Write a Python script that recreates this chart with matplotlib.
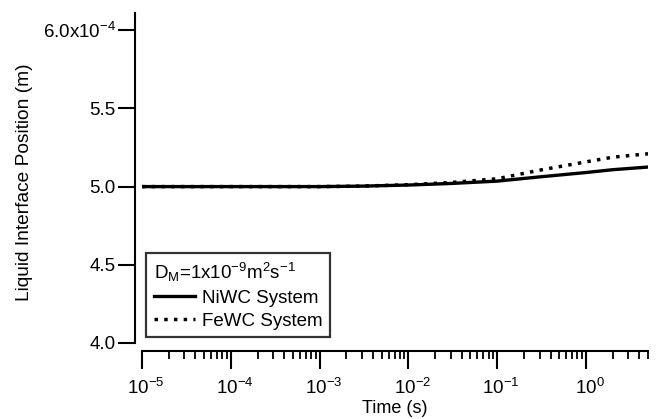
import numpy as np
import matplotlib
matplotlib.use("Agg")
from matplotlib import pyplot as plt
from matplotlib.ticker import LogLocator, NullFormatter, FixedLocator
from matplotlib.transforms import ScaledTranslation

plt.rcParams["font.family"] = ["Liberation Sans", "DejaVu Sans"]
plt.rcParams["mathtext.fontset"] = "custom"
plt.rcParams["mathtext.rm"] = "Liberation Sans"
plt.rcParams["mathtext.it"] = "Liberation Sans"

# time (s) and liquid interface position (m)
time_s = [1e-5, 1e-4, 1e-3, 3e-3, 1e-2, 3e-2, 1e-1, 3e-1, 1.0, 2.0, 5.0]
niwc_pos = [5.000e-4, 5.000e-4, 5.000e-4, 5.003e-4, 5.010e-4, 5.020e-4,
            5.035e-4, 5.062e-4, 5.090e-4, 5.108e-4, 5.125e-4]
fewc_pos = [5.000e-4, 5.000e-4, 5.000e-4, 5.003e-4, 5.012e-4, 5.026e-4,
            5.050e-4, 5.105e-4, 5.158e-4, 5.188e-4, 5.210e-4]

y_ticks = [4.0e-4, 4.5e-4, 5.0e-4, 5.5e-4, 6.0e-4]
y_tick_labels = ["4.0", "4.5", "5.0", "5.5", r"6.0x10$^{-4}$"]
x_ticks = [1e-5, 1e-4, 1e-3, 1e-2, 1e-1, 1e0]
x_tick_labels = [r"10$^{-5}$", r"10$^{-4}$", r"10$^{-3}$", r"10$^{-2}$",
                 r"10$^{-1}$", r"10$^{0}$"]

fig = plt.figure(figsize=(6.58, 4.19), dpi=100)
ax = fig.add_axes([142 / 658, (419 - 343) / 419, 506 / 658, 330 / 419])

ax.plot(time_s, niwc_pos, color="black", lw=2.4, label="NiWC System")
ax.plot(time_s, fewc_pos, color="black", lw=2.5, linestyle=(0, (1, 1.8)),
        label="FeWC System")

ax.set_xscale("log")
ax.set_xlim(1e-5, 5)
ax.set_ylim(4.0e-4, 6.11e-4)

ax.spines["top"].set_visible(False)
ax.spines["right"].set_visible(False)
ax.spines["left"].set_position(("outward", 5))
ax.spines["bottom"].set_position(("outward", 6))
for s in ("left", "bottom"):
    ax.spines[s].set_linewidth(1.5)

ax.yaxis.set_major_locator(FixedLocator(y_ticks))
ax.set_yticklabels(y_tick_labels)
ax.xaxis.set_major_locator(FixedLocator(x_ticks))
ax.set_xticklabels(x_tick_labels)
ax.xaxis.set_minor_locator(LogLocator(base=10, subs=np.arange(2, 10), numticks=20))
ax.xaxis.set_minor_formatter(NullFormatter())

ax.tick_params(axis="y", which="major", direction="out", length=12, width=1.5,
               labelsize=13.5, pad=2)
ax.tick_params(axis="x", which="major", direction="out", length=13, width=1.5,
               labelsize=13.5, pad=6)
ax.tick_params(axis="x", which="minor", direction="out", length=6, width=1.3)

# the "10" sits over the tick, the exponent hangs to the right
shift = ScaledTranslation(4 / 100, 0, fig.dpi_scale_trans)
for lbl in ax.get_xticklabels():
    lbl.set_transform(lbl.get_transform() + shift)

fig.text(395 / 658, 2 / 419, "Time (s)", ha="center", va="bottom", fontsize=13)
fig.text(25 / 658, (419 - 182) / 419, "Liquid Interface Position (m)",
         rotation=90, ha="center", va="center", fontsize=13.8)

leg = ax.legend(title=r"D$_{\mathrm{M}}$=1x10$^{-9}$m$^{2}$s$^{-1}$",
                loc="lower left", bbox_to_anchor=(0.008, 0.018),
                borderaxespad=0, alignment="left", fontsize=13.5,
                title_fontsize=13.5, frameon=True, fancybox=False,
                edgecolor="black", handlelength=2.2, handletextpad=0.4,
                borderpad=0.4, labelspacing=0.3)
leg.get_frame().set_linewidth(1.6)

fig.savefig("out.png", dpi=100)
